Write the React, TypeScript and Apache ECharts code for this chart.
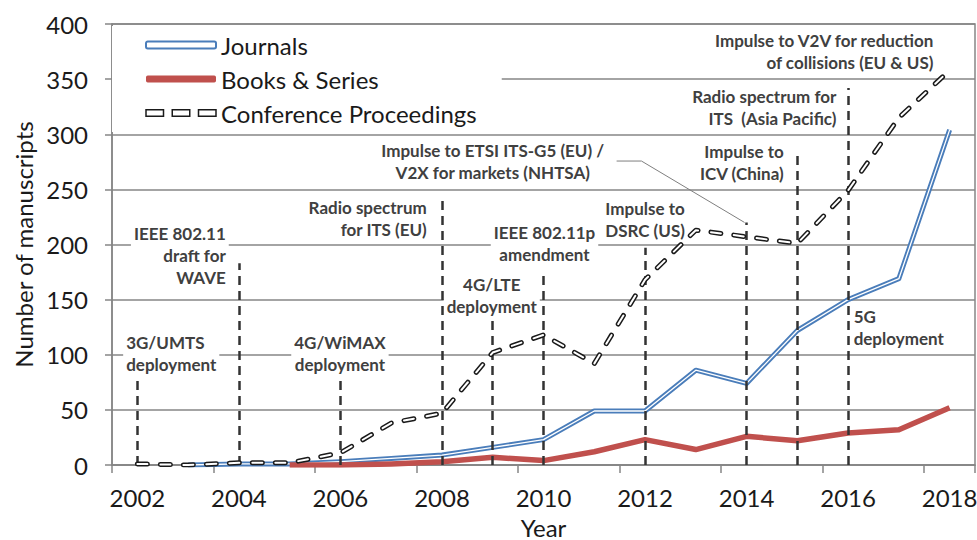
import React, { useEffect, useRef } from "react";
import * as echarts from "echarts";

const years = ["2002", "2003", "2004", "2005", "2006", "2007", "2008", "2009", "2010", "2011", "2012", "2013", "2014", "2015", "2016", "2017", "2018"];
const journals = [null, 0, 1, 1, 3, 6, 9, 16, 23, 49, 49, 86, 74, 122, 150, 169, 304];
const books = [null, null, null, 0, 0, 1, 3, 7, 4, 12, 23, 14, 26, 22, 29, 32, 52];
const conference = [1, 0, 2, 2, 11, 38, 47, 102, 118, 92, 168, 213, 207, 201, 249, 315, 358];

const eventYears = [2002.08, 2004, 2006, 2008, 2009, 2010, 2012, 2014, 2015, 2016, 2018];
const eventHeights = [77, 183, 80, 240, 134, 175, 197, 220, 284, 342, 412];

const annotationTexts = [
  "3G/UMTS\ndeployment",
  "IEEE 802.11\ndraft for\nWAVE",
  "4G/WiMAX\ndeployment",
  "Radio spectrum\nfor ITS (EU)",
  "4G/LTE\ndeployment",
  "IEEE 802.11p\namendment",
  "Impulse to\nDSRC (US)",
  "Impulse to ETSI ITS-G5 (EU) /\nV2X for markets (NHTSA)",
  "Impulse to\nICV (China)",
  "Radio spectrum for\nITS  (Asia Pacific)",
  "Impulse to V2V for reduction\nof collisions (EU & US)",
  "5G\ndeployment",
];
// anchor (fractional year, value at block centre, alignment)
const annotationAnchors: [number, number, string][] = [
  [2001.72, 100.7, "left"],
  [2003.8, 189.6, "right"],
  [2005.99, 100.7, "center"],
  [2007.76, 223.6, "right"],
  [2008.98, 153.3, "center"],
  [2010.02, 200.9, "center"],
  [2012.0, 223, "center"],
  [2009.0, 275.7, "center"],
  [2014.79, 274.8, "right"],
  [2015.83, 324.7, "right"],
  [2017.74, 375, "right"],
  [2016.05, 124.3, "left"],
];
const leaderPoints: [number, number][] = [
  [2011.44, 275.7],
  [2011.93, 275.7],
  [2013.96, 220],
];

const FONT = "Lato, 'Open Sans', sans-serif";
const GRAY = "#868686";
const BLUE = "#4a7dba";
const RED = "#c0504d";

export default function App() {
  const ref = useRef<HTMLDivElement>(null);
  useEffect(() => {
    if (!ref.current) return;
    const chart = echarts.init(ref.current, null, { renderer: "svg" });
    const dash = [10, 13];
    const option: any = {
      animation: false,
      backgroundColor: "#fff",
      textStyle: { fontFamily: FONT },
      grid: {
        left: 112,
        right: 2,
        top: 24,
        bottom: 75,
        outerBoundsMode: "none",
        containLabel: false,
        show: true,
        borderColor: GRAY,
        borderWidth: 1.5,
        backgroundColor: "transparent",
      },
      legend: {
        left: 112,
        top: 26,
        orient: "vertical",
        backgroundColor: "#fff",
        padding: [6, 25, 6, 33],
        itemWidth: 70,
        itemHeight: 7,
        itemGap: 8,
        selectedMode: false,
        textStyle: { fontFamily: FONT, fontSize: 24, color: "#1a1a1a", lineHeight: 26 },
        data: [
          { name: "Journals", icon: "roundRect", itemStyle: { color: "#fff", borderColor: BLUE, borderWidth: 2 } },
          { name: "Books & Series", icon: "roundRect", itemStyle: { color: RED, borderWidth: 0 } },
          {
            name: "Conference Proceedings",
            icon: "path://M0,0H16V6H0Z M24,0H40V6H24Z M48,0H64V6H48Z",
            itemStyle: { color: "#fff", borderColor: "#1a1a1a", borderWidth: 1.5 },
          },
        ],
      },
      xAxis: {
        type: "category",
        data: years,
        boundaryGap: true,
        name: "Year",
        nameLocation: "middle",
        nameGap: 50,
        nameTextStyle: { fontFamily: FONT, fontSize: 24, lineHeight: 24, color: "#1a1a1a" },
        axisLine: { lineStyle: { color: GRAY, width: 1.5 } },
        axisTick: { show: true, interval: 1, length: 8, lineStyle: { color: GRAY, width: 1.5 } },
        axisLabel: { interval: 1, fontFamily: FONT, fontSize: 24, color: "#1a1a1a", margin: 20 },
        splitLine: { show: false },
      },
      yAxis: {
        type: "value",
        min: 0,
        max: 400,
        interval: 50,
        name: "Number of manuscripts",
        nameLocation: "middle",
        nameGap: 76,
        nameTextStyle: { fontFamily: FONT, fontSize: 24, color: "#1a1a1a" },
        axisLine: { show: true, lineStyle: { color: GRAY, width: 1.5 } },
        axisTick: { show: true, length: 7, lineStyle: { color: GRAY, width: 1.5 } },
        axisLabel: { fontFamily: FONT, fontSize: 24, color: "#1a1a1a", margin: 24 },
        splitLine: { lineStyle: { color: GRAY, width: 1.5 } },
      },
      series: [
        {
          name: "events",
          type: "line",
          data: [],
          z: 1,
          clip: false,
          silent: true,
          markLine: {
            silent: true,
            symbol: "none",
            label: { show: false },
            lineStyle: { color: "#333", width: 2.5, type: [9, 6] },
            data: eventYears.map((y, i) => [
              { coord: [y - 2002, 0] },
              { coord: [y - 2002, eventHeights[i]] },
            ]),
          },
        },
        {
          name: "Journals",
          type: "line",
          data: journals,
          symbol: "none",
          z: 3,
          lineStyle: { color: BLUE, width: 5, join: "round" },
          itemStyle: { color: BLUE },
        },
        {
          name: "Journals inner",
          type: "line",
          data: journals,
          symbol: "none",
          z: 3,
          lineStyle: { color: "#fff", width: 1.3, join: "round" },
        },
        {
          name: "Books & Series",
          type: "line",
          data: books,
          symbol: "none",
          z: 4,
          lineStyle: { color: RED, width: 5.5, join: "round" },
          itemStyle: { color: RED },
        },
        {
          name: "Conference Proceedings",
          type: "line",
          data: conference,
          symbol: "none",
          z: 5,
          lineStyle: { color: "#1a1a1a", width: 5, type: dash, cap: "round", join: "round" },
          itemStyle: { color: "#1a1a1a" },
        },
        {
          name: "Conference inner",
          type: "line",
          data: conference,
          symbol: "none",
          z: 5,
          lineStyle: { color: "#fff", width: 2, type: dash, cap: "round", join: "round" },
        },
      ],
    };
    chart.setOption(option);

    const x0 = chart.convertToPixel({ xAxisIndex: 0 }, 0) as number;
    const x1 = chart.convertToPixel({ xAxisIndex: 0 }, 16) as number;
    const px = (yr: number, v: number): [number, number] => [
      x0 + ((yr - 2002) / 16) * (x1 - x0),
      chart.convertToPixel({ yAxisIndex: 0 }, v) as number,
    ];
    const graphics: any[] = annotationTexts.map((t, i) => {
      const [yr, v, align] = annotationAnchors[i];
      const [x, y] = px(yr, v);
      return {
        type: "text",
        x,
        y,
        z: 1,
        silent: true,
        style: {
          text: t,
          fill: "#404040",
          fontFamily: FONT,
          fontWeight: "bold",
          fontSize: 17,
          lineHeight: 22,
          align,
          verticalAlign: "middle",
          backgroundColor: "#fff",
          padding: [1, 3],
        },
      };
    });
    graphics.push({
      type: "polyline",
      z: 1,
      silent: true,
      shape: { points: leaderPoints.map(([yr, v]) => px(yr, v)) },
      style: { stroke: "#7f7f7f", lineWidth: 1, fill: "none" },
    });
    chart.setOption({ graphic: graphics });

    return () => chart.dispose();
  }, []);
  return <div ref={ref} style={{ position: "fixed", left: 0, top: 0, width: 977, height: 540, background: "#fff" }} />;
}
